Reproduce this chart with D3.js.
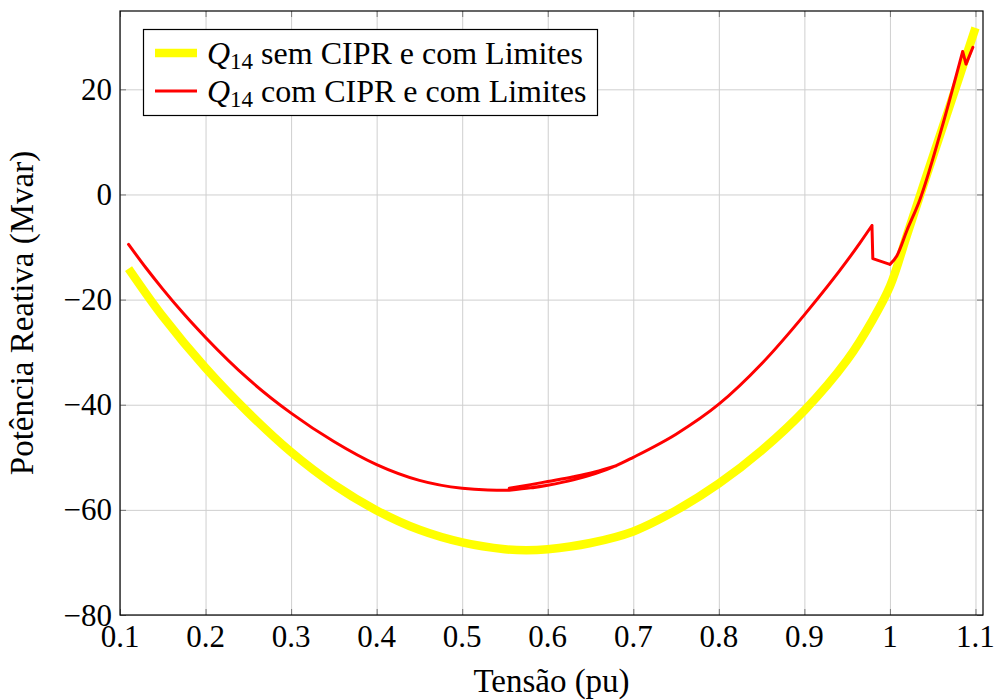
<!DOCTYPE html>
<html>
<head>
<meta charset="utf-8">
<script src="https://cdn.jsdelivr.net/npm/d3@7"></script>
<style>
  body { margin: 0; background: #fff; }
  svg text { font-family: 'Liberation Serif', 'Times New Roman', serif; fill: #000; }
  .grid line { stroke: #cfcfcf; stroke-width: 1; }
  .grid path { display: none; }
  .ax path { display: none; }
  .ax line { stroke: #777; }
</style>
</head>
<body>
<svg id="chart"></svg>
<script>
// Q14 sem CIPR e com Limites (yellow)
const semX = [0.11, 0.15, 0.2, 0.25, 0.3, 0.35, 0.4, 0.45, 0.5, 0.55, 0.575, 0.6, 0.65, 0.7,
  0.75, 0.8, 0.85, 0.9, 0.95, 0.98, 1.0, 1.02, 1.04, 1.06, 1.08, 1.1];
const semY = [-14.1, -23.2, -33.0, -41.5, -49.0, -55.2, -60.1, -63.8, -66.2, -67.5, -67.7, -67.5, -66.3, -64.1,
  -60.1, -55.0, -48.7, -41.1, -31.5, -23.8, -17.5, -7.7, 2.2, 12.0, 21.8, 31.7];

// Q14 com CIPR e com Limites (red)
const comX = [0.11, 0.13, 0.15, 0.175, 0.2, 0.25, 0.3, 0.35, 0.4, 0.45, 0.5, 0.53, 0.555,
  0.58, 0.6, 0.63, 0.655, 0.68, 0.655, 0.63, 0.6, 0.58, 0.555, 0.58, 0.6, 0.63, 0.68,
  0.7, 0.75, 0.8, 0.85, 0.9, 0.95, 0.965, 0.979, 0.98, 1.0, 1.008, 1.02, 1.035, 1.06,
  1.085, 1.089, 1.097];
const comY = [-9.5, -13.9, -18.0, -22.8, -27.2, -35.1, -41.6, -47.0, -51.4, -54.4, -55.9, -56.2, -56.25,
  -55.8, -55.3, -54.3, -53.1, -51.6, -52.8, -53.7, -54.6, -55.2, -55.9, -55.8, -55.3, -54.3, -51.6,
  -50.0, -45.6, -39.9, -32.2, -22.9, -12.6, -9.2, -5.9, -12.2, -13.3, -11.7, -6.8, -1.0, 12.3,
  27.2, 24.8, 28.0];

const xTicks = [0.1, 0.2, 0.3, 0.4, 0.5, 0.6, 0.7, 0.8, 0.9, 1, 1.1];
const yTicks = [-80, -60, -40, -20, 0, 20];

const width = 998;
const height = 700;
const margin = { top: 11, right: 15, bottom: 85, left: 120 };
const innerW = width - margin.left - margin.right;
const innerH = height - margin.top - margin.bottom;

const svg = d3.select('#chart').attr('width', width).attr('height', height);
const g = svg.append('g').attr('transform', `translate(${margin.left},${margin.top})`);

const x = d3.scaleLinear().domain([0.1, 1.1088]).range([0, innerW]);
const y = d3.scaleLinear().domain([-80, 34.9]).range([innerH, 0]);

// grid
g.append('g').attr('class', 'grid')
  .attr('transform', `translate(0,${innerH})`)
  .call(d3.axisBottom(x).tickValues(xTicks).tickSize(-innerH).tickFormat(''));
g.append('g').attr('class', 'grid')
  .call(d3.axisLeft(y).tickValues(yTicks).tickSize(-innerW).tickFormat(''));

// inner ticks on all four sides
const tk = 6;
g.append('g').attr('class', 'ax').attr('transform', `translate(0,${innerH})`)
  .call(d3.axisBottom(x).tickValues(xTicks).tickSize(-tk).tickFormat(''));
g.append('g').attr('class', 'ax')
  .call(d3.axisTop(x).tickValues(xTicks).tickSize(-tk).tickFormat(''));
g.append('g').attr('class', 'ax')
  .call(d3.axisLeft(y).tickValues(yTicks).tickSize(-tk).tickFormat(''));
g.append('g').attr('class', 'ax').attr('transform', `translate(${innerW},0)`)
  .call(d3.axisRight(y).tickValues(yTicks).tickSize(-tk).tickFormat(''));

// split a polyline into runs monotone in x and y; steep jumps stay straight
function runs(pts) {
  const out = [];
  let cur = [pts[0]];
  let dirX = 0;
  let dirY = 0;
  for (let i = 1; i < pts.length; i += 1) {
    const dx = pts[i][0] - pts[i - 1][0];
    const dy = pts[i][1] - pts[i - 1][1];
    const sx = Math.sign(dx);
    const sy = Math.sign(dy);
    if (Math.abs(dy / dx) > 1500) {
      out.push(cur);
      out.push([pts[i - 1], pts[i]]);
      cur = [pts[i]];
      dirX = 0;
      dirY = 0;
    } else if ((dirX !== 0 && sx !== dirX) || (dirY !== 0 && sy !== dirY)) {
      out.push(cur);
      cur = [pts[i - 1], pts[i]];
      dirX = sx;
      dirY = sy;
    } else {
      cur.push(pts[i]);
      dirX = sx;
      dirY = sy;
    }
  }
  out.push(cur);
  return out.filter((r) => r.length > 1);
}

function pathFor(pts) {
  const gen = d3.line().x((d) => x(d[0])).y((d) => y(d[1]));
  const parts = runs(pts);
  return parts.map((r) => {
    const rr = r[r.length - 1][0] > r[0][0] ? r : r.slice().reverse();
    return gen.curve(r.length > 2 ? d3.curveMonotoneX : d3.curveLinear)(rr);
  }).join(' ');
}

const semData = semX.map((v, i) => [v, semY[i]]);
const comData = comX.map((v, i) => [v, comY[i]]);

g.append('path')
  .attr('d', d3.line().x((d) => x(d[0])).y((d) => y(d[1])).curve(d3.curveCatmullRom)(semData))
  .attr('fill', 'none').attr('stroke', '#ffff00').attr('stroke-width', 8.5)
  .attr('stroke-linejoin', 'round');
g.append('path')
  .attr('d', pathFor(comData))
  .attr('fill', 'none').attr('stroke', '#ff0000').attr('stroke-width', 3)
  .attr('stroke-linecap', 'round');

// frame
g.append('rect').attr('width', innerW).attr('height', innerH)
  .attr('fill', 'none').attr('stroke', '#000').attr('stroke-width', 1.2);

// tick labels
g.append('g').selectAll('text').data(xTicks).join('text')
  .attr('x', (d) => x(d)).attr('y', innerH + 32)
  .attr('text-anchor', 'middle').style('font-size', '31px')
  .text((d) => d3.format('')(d));
g.append('g').selectAll('text').data(yTicks).join('text')
  .attr('x', -8).attr('y', (d) => y(d) + 10.5)
  .attr('text-anchor', 'end').style('font-size', '31px')
  .text((d) => d3.format('d')(d));

// axis titles
svg.append('text').attr('x', margin.left + innerW / 2).attr('y', 692)
  .attr('text-anchor', 'middle').style('font-size', '33px').text('Tensão (pu)');
svg.append('text').attr('transform', `translate(33,${margin.top + innerH / 2}) rotate(-90)`)
  .attr('text-anchor', 'middle').style('font-size', '33px').text('Potência Reativa (Mvar)');

// legend
const legend = svg.append('g');
legend.append('rect').attr('x', 143.5).attr('y', 29.5).attr('width', 454).attr('height', 86)
  .attr('fill', '#fff').attr('stroke', '#000').attr('stroke-width', 1.2);
const entries = [
  { color: '#ffff00', w: 8.5, rest: ' sem CIPR e com Limites', cy: 53 },
  { color: '#ff0000', w: 3, rest: ' com CIPR e com Limites', cy: 91 },
];
entries.forEach((e) => {
  legend.append('line').attr('x1', 155).attr('x2', 197).attr('y1', e.cy).attr('y2', e.cy)
    .attr('stroke', e.color).attr('stroke-width', e.w);
  const t = legend.append('text').attr('x', 207).attr('y', e.cy + 10.5).style('font-size', '32px');
  t.append('tspan').style('font-style', 'italic').text('Q');
  t.append('tspan').attr('dy', 5).style('font-size', '23px').text('14');
  t.append('tspan').attr('dy', -5).text(e.rest);
});
</script>
</body>
</html>
